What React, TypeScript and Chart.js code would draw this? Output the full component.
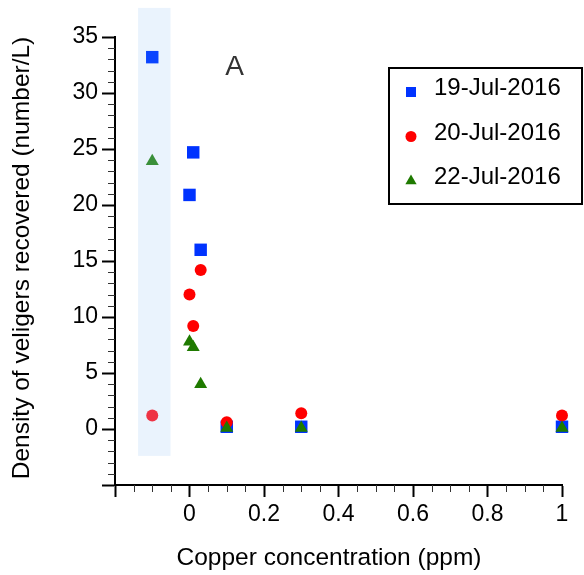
import React, { useEffect, useRef } from 'react';
import { Chart, registerables } from 'chart.js';

Chart.register(...registerables);

// Copper concentration (ppm); -0.1 is the control (shaded band)
const concentrations = [-0.1, 0, 0.01, 0.03, 0.1, 0.3, 1];
const jul19 = [33.2, 20.9, 24.7, 16.0, 0.2, 0.2, 0.2];
const jul20 = [1.2, 12.0, 9.2, 14.2, 0.6, 1.4, 1.2];
const jul22 = [23.9, 7.8, 7.3, 4.0, 0.1, 0.1, 0.1];
const seriesLabels = ['19-Jul-2016', '20-Jul-2016', '22-Jul-2016'];
const xTicks = [-0.2, 0, 0.2, 0.4, 0.6, 0.8, 1];
const xTickLabels = ['', '0', '0.2', '0.4', '0.6', '0.8', '1'];
const yTicks = [-5, 0, 5, 10, 15, 20, 25, 30, 35];
const yTickLabels = ['', '0', '5', '10', '15', '20', '25', '30', '35'];
const controlBandX = [-0.138, -0.051];
const controlBandY = [-2.4, 37.6];
const xTitle = 'Copper concentration (ppm)';
const yTitle = 'Density of veligers recovered (number/L)';
const panelLabel = 'A';

const FONT = '"Liberation Sans", Arial, Helvetica, sans-serif';

const colors = {
  blue: '#0033ff',
  blueCtl: '#0a44ff',
  red: '#ff0000',
  redCtl: '#ee3344',
  green: '#1f7a00',
  greenCtl: '#3a8f3a',
};

function ptColors(normal: string, ctl: string) {
  return concentrations.map((c) => (c < 0 ? ctl : normal));
}

const customPlugin = {
  id: 'customDraw',
  beforeDatasetsDraw(chart: any) {
    const { ctx, scales } = chart;
    const x = scales.x, y = scales.y;
    ctx.save();
    ctx.fillStyle = '#eaf3fd';
    const x0 = x.getPixelForValue(controlBandX[0]);
    const x1 = x.getPixelForValue(controlBandX[1]);
    const y0 = y.getPixelForValue(controlBandY[1]);
    const y1 = y.getPixelForValue(controlBandY[0]);
    ctx.fillRect(x0, y0, x1 - x0, y1 - y0);
    ctx.restore();
  },
  afterDraw(chart: any) {
    const { ctx, scales, chartArea } = chart;
    const x = scales.x, y = scales.y;
    ctx.save();
    // minor ticks
    ctx.strokeStyle = '#333';
    ctx.lineWidth = 1;
    ctx.beginPath();
    for (let v = -4; v < 35; v++) {
      if (v % 5 === 0) continue;
      const py = Math.round(y.getPixelForValue(v)) + 0.5;
      ctx.moveTo(chartArea.left - 7, py);
      ctx.lineTo(chartArea.left, py);
    }
    for (let i = -3; i < 20; i++) {
      if ((i + 4) % 4 === 0) continue;
      const v = i * 0.05;
      const px = Math.round(x.getPixelForValue(v)) + 0.5;
      ctx.moveTo(px, chartArea.bottom);
      ctx.lineTo(px, chartArea.bottom + 7);
    }
    ctx.stroke();

    // axis titles
    ctx.fillStyle = '#000';
    ctx.font = '24.5px ' + FONT;
    ctx.textAlign = 'center';
    ctx.textBaseline = 'alphabetic';
    ctx.fillText(xTitle, 329, 565);
    ctx.save();
    ctx.translate(29, 258);
    ctx.rotate(-Math.PI / 2);
    ctx.fillText(yTitle, 0, 0);
    ctx.restore();

    // panel label
    ctx.fillStyle = '#333';
    ctx.font = '28px ' + FONT;
    ctx.fillText(panelLabel, 234.5, 75);

    // legend
    ctx.fillStyle = '#fff';
    ctx.fillRect(389, 68, 193, 136);
    ctx.strokeStyle = '#000';
    ctx.lineWidth = 2;
    ctx.strokeRect(389, 68, 193, 136);
    const rows = [95, 139.5, 184];
    chart.data.datasets.forEach((ds: any, i: number) => {
      const by = rows[i];
      const mx = 411, my = by - 3;
      ctx.fillStyle = ds.legendColor;
      ctx.beginPath();
      if (ds.pointStyle === 'rect') {
        ctx.rect(mx - 5, my - 5, 10, 10);
      } else if (ds.pointStyle === 'circle') {
        ctx.arc(mx, my, 5.5, 0, Math.PI * 2);
      } else {
        const r = 6.5;
        ctx.moveTo(mx, my - r);
        ctx.lineTo(mx + r * 0.866, my + r * 0.5);
        ctx.lineTo(mx - r * 0.866, my + r * 0.5);
        ctx.closePath();
      }
      ctx.fill();
      ctx.fillStyle = '#000';
      ctx.font = '24px ' + FONT;
      ctx.textAlign = 'left';
      ctx.fillText(ds.label, 434, by);
    });
    ctx.restore();
  },
};

export default function App() {
  const ref = useRef<HTMLCanvasElement | null>(null);
  useEffect(() => {
    if (!ref.current) return;
    const mk = (vals: number[]) => concentrations.map((c, i) => ({ x: c, y: vals[i] }));
    const chart = new Chart(ref.current, {
      type: 'scatter',
      data: {
        datasets: [
          {
            label: seriesLabels[0],
            data: mk(jul19),
            pointStyle: 'rect',
            pointRadius: 8.8,
            pointHoverRadius: 8.8,
            backgroundColor: ptColors(colors.blue, colors.blueCtl),
            borderWidth: 0,
            order: 3,
            clip: false,
            legendColor: colors.blue,
          } as any,
          {
            label: seriesLabels[1],
            data: mk(jul20),
            pointStyle: 'circle',
            pointRadius: 6,
            pointHoverRadius: 6,
            backgroundColor: ptColors(colors.red, colors.redCtl),
            borderWidth: 0,
            order: 2,
            clip: false,
            legendColor: colors.red,
          } as any,
          {
            label: seriesLabels[2],
            data: mk(jul22),
            pointStyle: 'triangle',
            pointRadius: 7.5,
            pointHoverRadius: 7.5,
            backgroundColor: ptColors(colors.green, colors.greenCtl),
            borderWidth: 0,
            order: 1,
            clip: false,
            legendColor: colors.green,
          } as any,
        ],
      },
      options: {
        animation: false,
        responsive: true,
        maintainAspectRatio: false,
        layout: { padding: { left: 0, top: 37, right: 22, bottom: 0 } },
        plugins: { legend: { display: false }, tooltip: { enabled: false } },
        scales: {
          x: {
            type: 'linear',
            min: -0.2,
            max: 1,
            afterBuildTicks: (s: any) => {
              s.ticks = xTicks.map((v) => ({ value: v }));
            },
            afterFit: (s: any) => {
              s.height = 90;
            },
            ticks: {
              autoSkip: false,
              maxRotation: 0,
              color: '#000',
              font: { family: FONT, size: 23 },
              padding: 4,
              callback: (_v: any, i: number) => xTickLabels[i],
            },
            grid: { drawOnChartArea: false, drawTicks: true, tickLength: 12, tickWidth: 2, tickColor: '#000' },
            border: { display: true, color: '#000', width: 2 },
          },
          y: {
            type: 'linear',
            min: -5,
            max: 35,
            afterBuildTicks: (s: any) => {
              s.ticks = yTicks.map((v) => ({ value: v }));
            },
            afterFit: (s: any) => {
              s.width = 115;
            },
            ticks: {
              autoSkip: false,
              color: '#000',
              font: { family: FONT, size: 23 },
              padding: 4,
              callback: (_v: any, i: number) => yTickLabels[i],
            },
            grid: { drawOnChartArea: false, drawTicks: true, tickLength: 13, tickWidth: 2, tickColor: '#000' },
            border: { display: true, color: '#000', width: 2 },
          },
        },
      },
      plugins: [customPlugin],
    });
    return () => chart.destroy();
  }, []);
  return (
    <div style={{ position: 'absolute', left: 0, top: 0, width: 584, height: 575, background: '#fff' }}>
      <canvas ref={ref} />
    </div>
  );
}
